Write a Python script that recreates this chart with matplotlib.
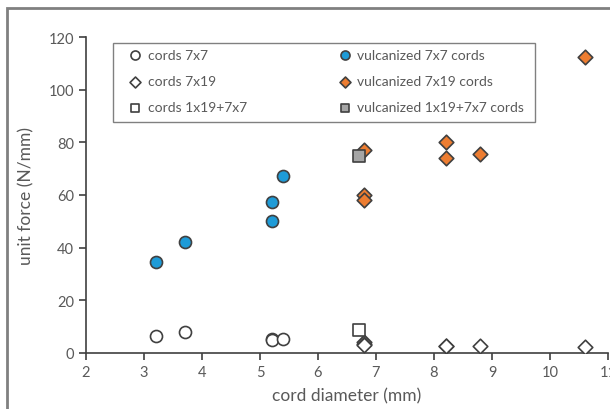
import matplotlib
matplotlib.use("Agg")
import matplotlib.pyplot as plt
from matplotlib.patches import Rectangle

# cords without rubber
c7x7_d = [3.2, 3.7, 5.2, 5.2, 5.4]
c7x7_f = [6.5, 8.0, 5.5, 4.8, 5.3]
c7x19_d = [6.8, 6.8, 6.8, 8.2, 8.2, 8.8, 10.6]
c7x19_f = [4.0, 3.5, 3.0, 2.8, 2.6, 2.5, 2.3]
c1x19_d = [6.7]
c1x19_f = [8.7]

# vulcanized cords
v7x7_d = [3.2, 3.7, 5.2, 5.2, 5.4]
v7x7_f = [34.5, 42.2, 57.2, 50.2, 67.1]
v7x19_d = [6.8, 6.8, 6.8, 8.2, 8.2, 8.8, 10.6]
v7x19_f = [77.0, 60.0, 58.0, 80.0, 74.0, 75.6, 112.5]
v1x19_d = [6.7]
v1x19_f = [75.0]

grey_txt = '#595959'
edge = '#404040'
plt.rcParams['font.family'] = ['Lato', 'DejaVu Sans']

fig = plt.figure(figsize=(6.1, 4.1), dpi=100)
ax = fig.add_axes([86/610, 56/410, 522/610, 316/410])

ax.scatter(c7x7_d, c7x7_f, s=75, marker='o', facecolor='white', edgecolor=edge, lw=1.2, label='cords 7x7', zorder=3)
ax.scatter(c7x19_d, c7x19_f, s=55, marker='D', facecolor='white', edgecolor=edge, lw=1.2, label='cords 7x19', zorder=3)
ax.scatter(c1x19_d, c1x19_f, s=70, marker='s', facecolor='white', edgecolor=edge, lw=1.2, label='cords 1x19+7x7', zorder=3)
ax.scatter(v7x7_d, v7x7_f, s=75, marker='o', facecolor='#1e9bd7', edgecolor=edge, lw=1.2, label='vulcanized 7x7 cords', zorder=3)
ax.scatter(v7x19_d, v7x19_f, s=55, marker='D', facecolor='#ed7d31', edgecolor=edge, lw=1.2, label='vulcanized 7x19 cords', zorder=3)
ax.scatter(v1x19_d, v1x19_f, s=70, marker='s', facecolor='#a5a5a5', edgecolor=edge, lw=1.2, label='vulcanized 1x19+7x7 cords', zorder=3)

ax.set_xlim(2, 11)
ax.set_ylim(0, 120)
ax.set_xticks(range(2, 12))
ax.set_yticks(range(0, 121, 20))
for s in ['top', 'right']:
    ax.spines[s].set_visible(False)
for s in ['left', 'bottom']:
    ax.spines[s].set_color('#404040')
    ax.spines[s].set_linewidth(1.2)
ax.tick_params(direction='out', length=5, width=1.2, color='#404040', labelcolor=grey_txt, labelsize=10.5)
ax.set_xlabel('cord diameter (mm)', fontsize=12.5, color=grey_txt, labelpad=6)
ax.set_ylabel('unit force (N/mm)', fontsize=12.5, color=grey_txt, labelpad=10)

# legend without its own frame, frame drawn separately
leg = ax.legend(ncol=2, loc='upper left', bbox_to_anchor=(124/610, 1 - 50/410),
                bbox_transform=fig.transFigure, borderaxespad=0, borderpad=0, frameon=False,
                markerscale=0.75, fontsize=10, labelcolor=grey_txt, handlelength=1.6,
                handletextpad=0.1, labelspacing=1.02, columnspacing=6.25)
fig.patches.append(Rectangle((113/610, 1 - 123/410), 422/610, 79/410, transform=fig.transFigure,
                             fill=False, edgecolor='#808080', lw=1.0))

fig.patches.append(Rectangle((7/610, -0.1), 1.2, 1.1 - 9/410, transform=fig.transFigure,
                             fill=False, edgecolor='#808080', lw=2, clip_on=False))

fig.savefig('out.png', dpi=100)
